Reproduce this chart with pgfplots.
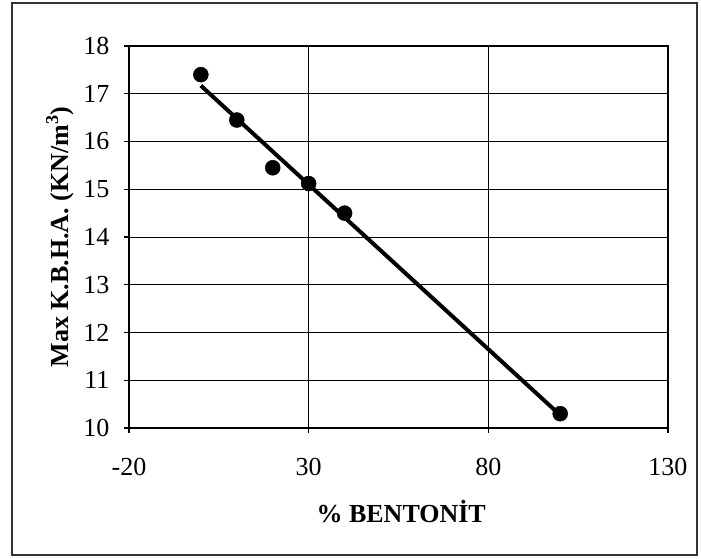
\documentclass[border=0pt]{standalone}
\usepackage{fontspec}
\setmainfont{Liberation Serif}
\usepackage{pgfplots}
\pgfplotsset{compat=1.18}
\begin{document}
\begin{tikzpicture}
\path[use as bounding box] (-96.75pt,-97.5pt) rectangle (429pt,321pt);
\draw[line width=1pt,black!80] (-87.75pt,-95.25pt) rectangle (426pt,318.75pt);
\begin{axis}[
  at={(0,0)}, anchor=south west,
  scale only axis,
  width=404.25pt, height=286.5pt,
  xmin=-20, xmax=130, ymin=10, ymax=18,
  xtick={-20,30,80,130},
  ytick={10,11,...,18},
  xtick pos=left, ytick pos=left,
  tick align=outside,
  major tick length=3.75pt,
  tick style={black, line width=0.8pt},
  grid=major,
  major grid style={black, line width=0.6pt},
  axis line style={black, line width=1.6pt},
  /pgf/number format/assume math mode=true,
  ticklabel style={font=\fontsize{19.5}{22}\selectfont},
  xticklabel style={yshift=-15pt},
  yticklabel style={xshift=-7.5pt},
  xlabel={\% BENTONİT},
  ylabel={Max K.B.H.A. (KN/m\textsuperscript{3})},
  x label style={at={(axis description cs:0.505,-0.219)}, anchor=center, font=\fontsize{19.5}{22}\selectfont\bfseries},
  y label style={at={(axis description cs:-0.128,0.5)}, anchor=center, font=\fontsize{19.5}{22}\selectfont\bfseries},
  clip=false,
]
\addplot[only marks, mark=*, mark size=5.6pt, black] coordinates {
  (0,17.4) (10,16.45) (20,15.45) (30,15.12) (40,14.5) (100,10.3)
};
\addplot[black, line width=3pt, no marks] coordinates {
  (0,17.17) (100,10.27)
};
\end{axis}
\end{tikzpicture}
\end{document}
